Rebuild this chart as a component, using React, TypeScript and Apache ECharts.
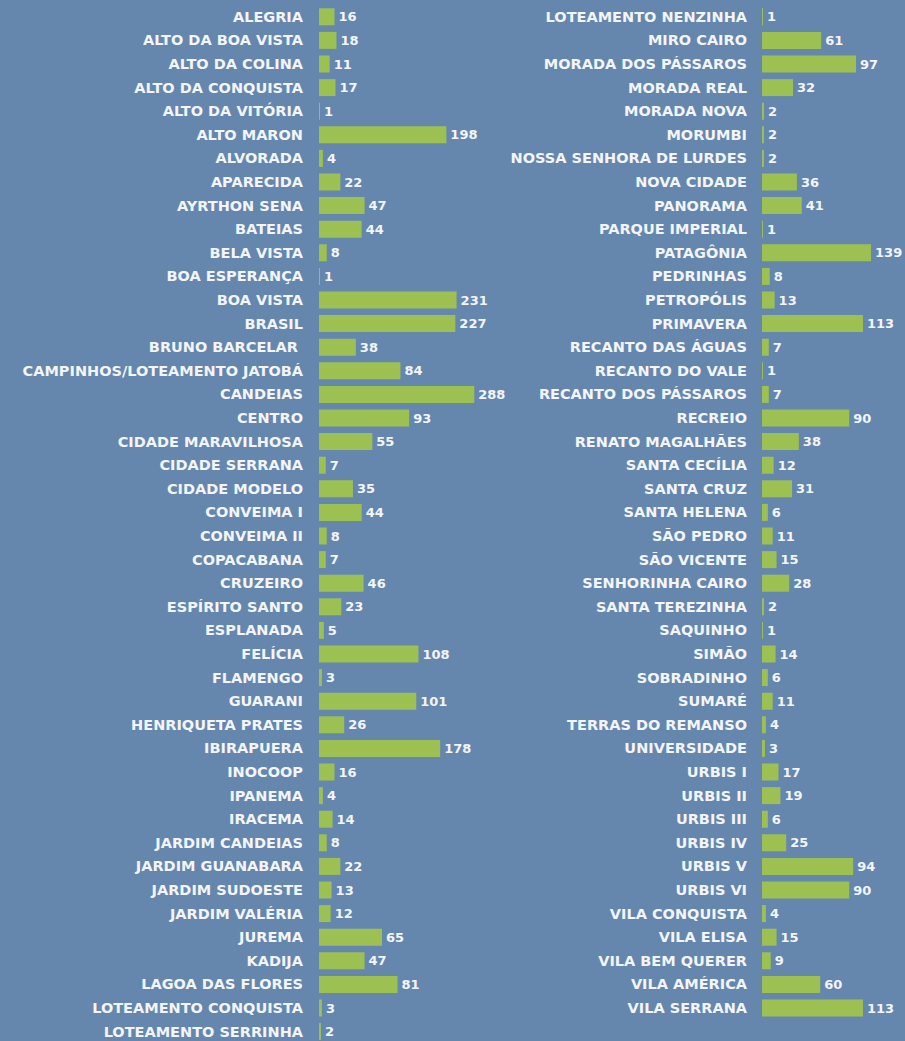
import React, { useEffect, useRef } from 'react';
import * as echarts from 'echarts';

const leftCategories = [
  'ALEGRIA', 'ALTO DA BOA VISTA', 'ALTO DA COLINA', 'ALTO DA CONQUISTA', 'ALTO DA VITÓRIA',
  'ALTO MARON', 'ALVORADA', 'APARECIDA', 'AYRTHON SENA', 'BATEIAS', 'BELA VISTA',
  'BOA ESPERANÇA', 'BOA VISTA', 'BRASIL', 'BRUNO BARCELAR ', 'CAMPINHOS/LOTEAMENTO JATOBÁ',
  'CANDEIAS', 'CENTRO', 'CIDADE MARAVILHOSA', 'CIDADE SERRANA', 'CIDADE MODELO',
  'CONVEIMA I', 'CONVEIMA II', 'COPACABANA', 'CRUZEIRO', 'ESPÍRITO SANTO', 'ESPLANADA',
  'FELÍCIA', 'FLAMENGO', 'GUARANI', 'HENRIQUETA PRATES', 'IBIRAPUERA', 'INOCOOP',
  'IPANEMA', 'IRACEMA', 'JARDIM CANDEIAS', 'JARDIM GUANABARA', 'JARDIM SUDOESTE',
  'JARDIM VALÉRIA', 'JUREMA', 'KADIJA', 'LAGOA DAS FLORES', 'LOTEAMENTO CONQUISTA',
  'LOTEAMENTO SERRINHA'
];
const leftValues = [
  16, 18, 11, 17, 1, 198, 4, 22, 47, 44, 8, 1, 231, 227, 38, 84, 288, 93, 55, 7, 35,
  44, 8, 7, 46, 23, 5, 108, 3, 101, 26, 178, 16, 4, 14, 8, 22, 13, 12, 65, 47, 81, 3, 2
];

const rightCategories = [
  'LOTEAMENTO NENZINHA', 'MIRO CAIRO', 'MORADA DOS PÁSSAROS', 'MORADA REAL', 'MORADA NOVA',
  'MORUMBI', 'NOSSA SENHORA DE LURDES', 'NOVA CIDADE', 'PANORAMA', 'PARQUE IMPERIAL',
  'PATAGÔNIA', 'PEDRINHAS', 'PETROPÓLIS', 'PRIMAVERA', 'RECANTO DAS ÁGUAS', 'RECANTO DO VALE',
  'RECANTO DOS PÁSSAROS', 'RECREIO', 'RENATO MAGALHÃES', 'SANTA CECÍLIA', 'SANTA CRUZ',
  'SANTA HELENA', 'SÃO PEDRO', 'SÃO VICENTE', 'SENHORINHA CAIRO', 'SANTA TEREZINHA',
  'SAQUINHO', 'SIMÃO', 'SOBRADINHO', 'SUMARÉ', 'TERRAS DO REMANSO', 'UNIVERSIDADE',
  'URBIS I', 'URBIS II', 'URBIS III', 'URBIS IV', 'URBIS V', 'URBIS VI', 'VILA CONQUISTA',
  'VILA ELISA', 'VILA BEM QUERER', 'VILA AMÉRICA', 'VILA SERRANA'
];
const rightValues = [
  1, 61, 97, 32, 2, 2, 2, 36, 41, 1, 139, 8, 13, 113, 7, 1, 7, 90, 38, 12, 31, 6, 11, 15,
  28, 2, 1, 14, 6, 11, 4, 3, 17, 19, 6, 25, 94, 90, 4, 15, 9, 60, 113
];

const BG = '#6587ae';
const BAR = '#9cc052';
const TEXT = '#f3f5f8';
const FONT = 'DejaVu Sans';

export default function App() {
  const ref = useRef<HTMLDivElement>(null);
  useEffect(() => {
    const chart = echarts.init(ref.current!, null, { renderer: 'svg' });
    const pitch = 23.6;
    const top = 5;
    const valueAxis = (gridIndex: number) => ({
      type: 'value',
      gridIndex,
      min: 0,
      max: 300,
      show: false,
      splitLine: { show: false },
      breaks: [{ start: 100, end: 300, gap: 64 }],
      breakArea: { show: false },
    });
    const catAxis = (gridIndex: number, data: string[], margin: number) => ({
      type: 'category',
      gridIndex,
      data,
      inverse: true,
      axisLine: { show: false },
      axisTick: { show: false },
      axisLabel: {
        color: TEXT,
        fontFamily: FONT,
        fontWeight: 'bold',
        fontSize: 14.5,
        margin,
        interval: 0,
      },
    });
    const barSeries = (idx: number, data: number[]) => ({
      type: 'bar',
      xAxisIndex: idx,
      yAxisIndex: idx,
      data,
      barWidth: 17,
      itemStyle: { color: BAR },
      label: {
        show: true,
        position: 'right',
        distance: 4,
        color: TEXT,
        fontFamily: FONT,
        fontWeight: 'bold',
        fontSize: 13,
        formatter: '{c}',
      },
    });
    chart.setOption({
      animation: false,
      backgroundColor: BG,
      grid: [
        { left: 319, top, width: 159, height: leftCategories.length * pitch, outerBoundsMode: 'none' },
        { left: 762, top, width: 159, height: rightCategories.length * pitch, outerBoundsMode: 'none' },
      ],
      xAxis: [valueAxis(0), valueAxis(1)],
      yAxis: [catAxis(0, leftCategories, 16), catAxis(1, rightCategories, 15)],
      series: [barSeries(0, leftValues), barSeries(1, rightValues)],
    });
    return () => chart.dispose();
  }, []);
  return (
    <div style={{ position: 'fixed', left: 0, top: 0, width: 905, height: 1041, background: BG }}>
      <div ref={ref} style={{ width: 905, height: 1041 }} />
    </div>
  );
}
